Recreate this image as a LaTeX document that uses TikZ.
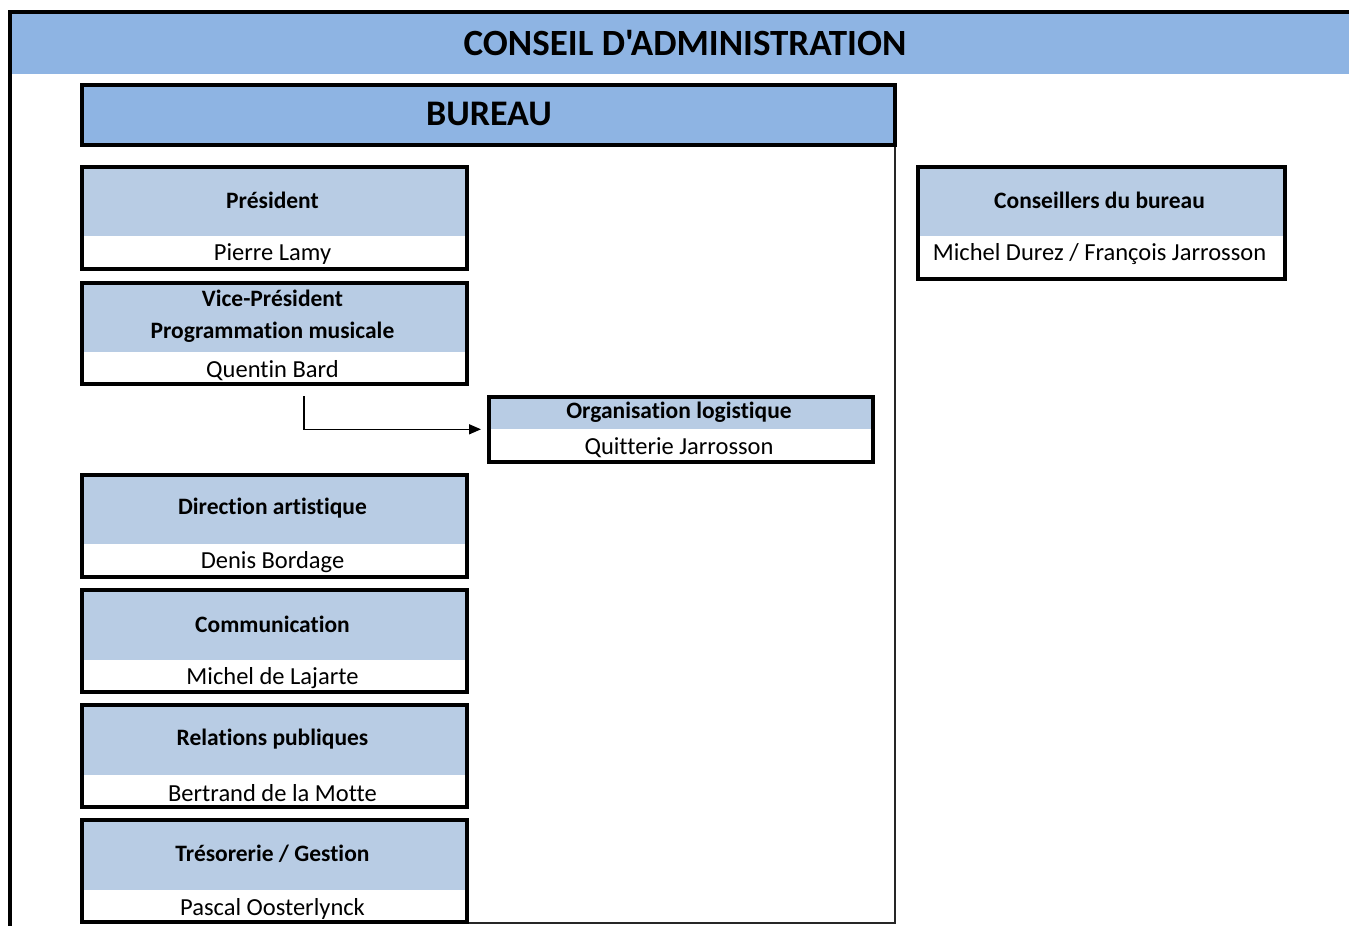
\documentclass[tikz,border=0pt]{standalone}
\usepackage{fontspec}
\newfontfamily\calfont{Carlito}[Ligatures={NoCommon}]
\usetikzlibrary{arrows.meta}
\definecolor{hdrblue}{RGB}{142,180,227}
\definecolor{boxblue}{RGB}{184,204,228}
\tikzset{
  every node/.style={font=\calfont},
  frame/.style={draw=black, line width=3.6pt, inner sep=0pt},
  ttl/.style={font=\calfont\fontsize{23.5}{32}\selectfont\bfseries, align=center, inner sep=0pt},
  nm/.style={font=\calfont\fontsize{24.5}{28}\selectfont, inner sep=0pt},
  big/.style={font=\calfont\fontsize{37}{42}\selectfont\bfseries, inner sep=0pt},
}
% #1 name, #2 x1, #3 y1, #4 x2, #5 y2, #6 split y, #7 title, #8 person
\newcommand\orgbox[8]{%
  \fill[boxblue] (#2,#3) rectangle (#4,#6);
  \node[frame, anchor=north west, minimum width={(#4-#2)*1pt}, minimum height={(#5-#3)*1pt}] (#1) at (#2,#3) {};
  \node[ttl] (#1t) at ({(#2+#4)/2},{(#3+#6)/2}) {#7};
  \node[nm] (#1n) at ({(#2+#4)/2},{#6+18.5}) {#8};
}
\begin{document}
\begin{tikzpicture}[x=1pt,y=-1pt]
\useasboundingbox (0,0) rectangle (1349,926);
\fill[white] (0,0) rectangle (1349,926);
% conseil header
\fill[hdrblue] (10,12) rectangle (1349,74);
\node[big] (conseil) at (685,43) {CONSEIL D'ADMINISTRATION};
\draw[line width=4pt] (10,926) -- (10,12) -- (1349,12);
% bureau frame
\draw[line width=2pt, black!85] (895,143) -- (895,923) -- (466,923);
\fill[hdrblue] (80,83) rectangle (893,143);
\node[frame, anchor=north west, minimum width=813pt, minimum height=60pt] (bureau) at (80,83) {};
\node[big, font=\calfont\fontsize{36}{40}\selectfont\bfseries] (bureaut) at (489,114) {BUREAU};
% boxes
\orgbox{pres}{80}{165}{465}{267}{236}{Président}{Pierre Lamy}
\orgbox{vp}{80}{281}{465}{382}{352}{Vice-Président\\Programmation musicale}{Quentin Bard}
\orgbox{org}{487}{395}{871}{460}{429}{Organisation logistique}{Quitterie Jarrosson}
\orgbox{dir}{80}{473}{465}{575}{544}{Direction artistique}{Denis Bordage}
\orgbox{com}{80}{588}{465}{690}{660}{Communication}{Michel de Lajarte}
\orgbox{rel}{80}{703}{465}{805}{775}{Relations publiques}{Bertrand de la Motte}
\orgbox{tre}{80}{818}{465}{920}{890}{Trésorerie / Gestion}{Pascal Oosterlynck}
\orgbox{cons}{916}{165}{1283}{277}{236}{Conseillers du bureau}{Michel Durez / François Jarrosson}
% arrow
\coordinate (vpa) at (304,396);
\draw[line width=1.6pt, -{Triangle[length=12pt,width=10pt]}, shorten >=6pt] (vpa) |- (org.west);
\end{tikzpicture}
\end{document}
